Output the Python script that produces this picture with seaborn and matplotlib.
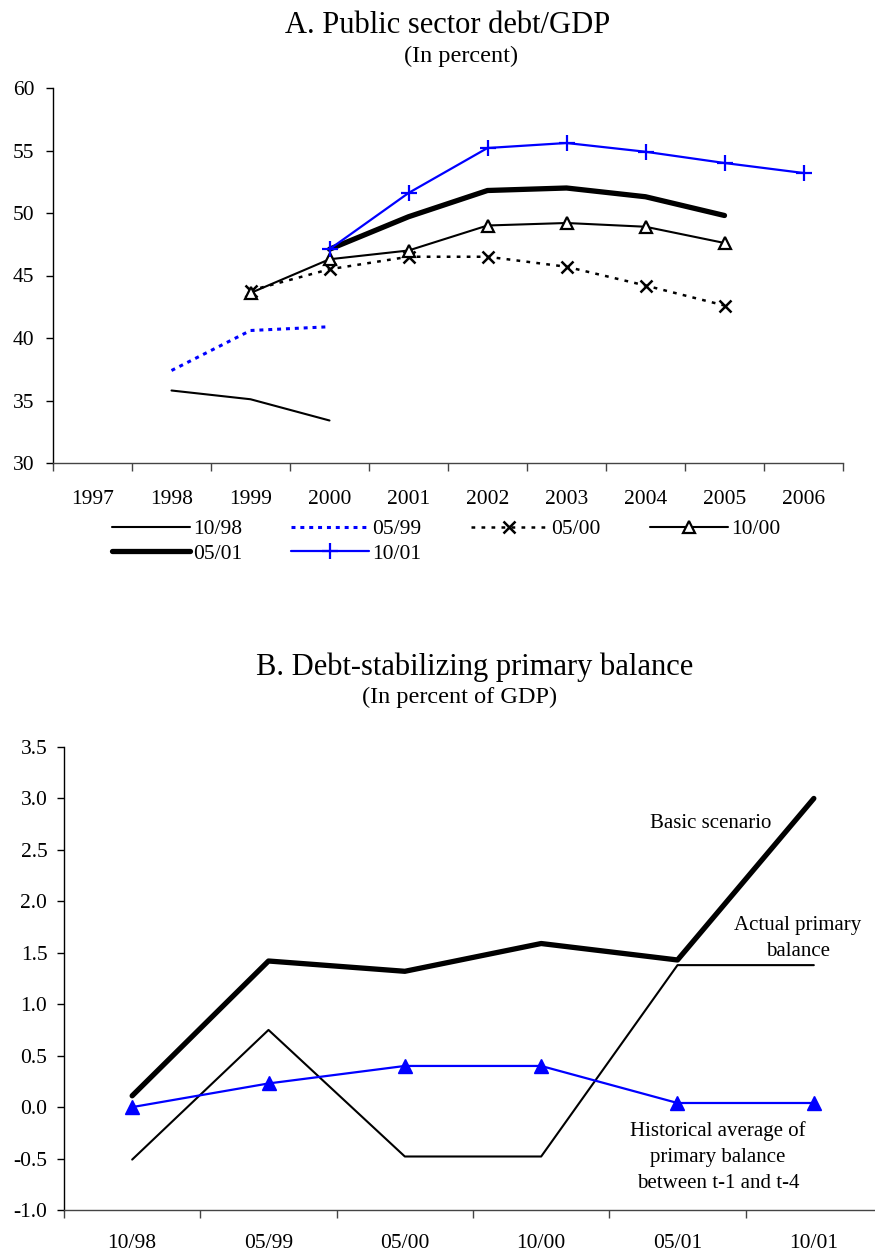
import numpy as np
import pandas as pd
import matplotlib
matplotlib.use("Agg")
import matplotlib.pyplot as plt
import seaborn as sns

sns.set_theme(style="white")
plt.rcParams["font.family"] = ["Liberation Serif", "DejaVu Serif"]
plt.rcParams["axes.unicode_minus"] = False
plt.rcParams["text.color"] = "black"
plt.rcParams["xtick.color"] = "black"
plt.rcParams["ytick.color"] = "black"
plt.rcParams["xtick.labelcolor"] = "black"
plt.rcParams["ytick.labelcolor"] = "black"

nan = np.nan
# ---- Panel A data ----
years = ["1997", "1998", "1999", "2000", "2001", "2002", "2003", "2004", "2005", "2006"]
debt_1098 = [nan, 35.8, 35.1, 33.4, nan, nan, nan, nan, nan, nan]
debt_0599 = [nan, 37.4, 40.6, 40.9, nan, nan, nan, nan, nan, nan]
debt_0500 = [nan, nan, 43.8, 45.5, 46.5, 46.5, 45.7, 44.2, 42.6, nan]
debt_1000 = [nan, nan, 43.6, 46.3, 47.0, 49.0, 49.2, 48.9, 47.6, nan]
debt_0501 = [nan, nan, nan, 47.1, 49.7, 51.8, 52.0, 51.3, 49.8, nan]
debt_1001 = [nan, nan, nan, 47.1, 51.6, 55.2, 55.6, 54.9, 54.0, 53.2]

# ---- Panel B data ----
vintages = ["10/98", "05/99", "05/00", "10/00", "05/01", "10/01"]
basic_scenario = [0.11, 1.42, 1.32, 1.59, 1.43, 3.0]
actual_primary = [-0.51, 0.75, -0.48, -0.48, 1.38, 1.38]
historical_avg = [0.0, 0.23, 0.40, 0.40, 0.04, 0.04]

W, H = 875, 1256
fig = plt.figure(figsize=(W / 100, H / 100), dpi=100)

def fx(px):
    return px / W

def fy(py):
    return 1 - py / H

ax1 = fig.add_axes([fx(53), fy(463), (843 - 53) / W, (463 - 88) / H])
ax2 = fig.add_axes([fx(64), fy(1210), (882 - 64) / W, (1210 - 747) / H])

xa = np.arange(len(years))
dfA = pd.DataFrame({"x": xa, "d1098": debt_1098, "d0599": debt_0599, "d0500": debt_0500,
                    "d1000": debt_1000, "d0501": debt_0501, "d1001": debt_1001})

BLUE = "#0000ff"
sns.lineplot(data=dfA, x="x", y="d1098", ax=ax1, color="black", lw=1.5, label="10/98")
sns.lineplot(data=dfA, x="x", y="d0599", ax=ax1, color=BLUE, lw=2.2,
             linestyle=(0, (1.3, 1.6)), label="05/99")
sns.lineplot(data=dfA, x="x", y="d0500", ax=ax1, color="black", lw=1.8,
             linestyle=(0, (1.5, 2.5)), marker="x", markersize=8,
             markeredgecolor="black", markeredgewidth=1.8, label="05/00")
sns.lineplot(data=dfA, x="x", y="d1000", ax=ax1, color="black", lw=1.5,
             marker="^", markersize=8, markerfacecolor="white",
             markeredgecolor="black", markeredgewidth=1.6, label="10/00")
sns.lineplot(data=dfA, x="x", y="d0501", ax=ax1, color="black", lw=3.8,
             solid_capstyle="round", label="05/01")
sns.lineplot(data=dfA, x="x", y="d1001", ax=ax1, color=BLUE, lw=1.6,
             marker="+", markersize=12, markeredgecolor=BLUE,
             markeredgewidth=1.6, label="10/01")

ax1.set_xlim(-0.5, len(years) - 0.5)
ax1.set_ylim(30, 60)
ax1.set_yticks(np.arange(30, 61, 5))
ax1.set_xticks(np.arange(-0.5, len(years), 1.0))
ax1.set_xticklabels([])
ax1.set_xticks(xa, minor=True)
ax1.set_xticklabels(years, minor=True)
ax1.set_xlabel("")
ax1.set_ylabel("")

ax2_x = np.arange(len(vintages))
dfB = pd.DataFrame({"x": ax2_x, "basic": basic_scenario, "actual": actual_primary,
                    "hist": historical_avg})
sns.lineplot(data=dfB, x="x", y="basic", ax=ax2, color="black", lw=3.8,
             solid_capstyle="round")
sns.lineplot(data=dfB, x="x", y="actual", ax=ax2, color="black", lw=1.5)
sns.lineplot(data=dfB, x="x", y="hist", ax=ax2, color=BLUE, lw=1.6,
             marker="^", markersize=10, markerfacecolor=BLUE,
             markeredgecolor=BLUE, markeredgewidth=1)
ax2.set_xlim(-0.5, len(vintages) - 0.5)
ax2.set_ylim(-1.0, 3.5)
ax2.set_yticks(np.arange(-1.0, 3.51, 0.5))
ax2.set_yticklabels([f"{v:.1f}" for v in np.arange(-1.0, 3.51, 0.5)])
ax2.set_xticks(np.arange(-0.5, len(vintages), 1.0))
ax2.set_xticklabels([])
ax2.set_xticks(ax2_x, minor=True)
ax2.set_xticklabels(vintages, minor=True)
ax2.set_xlabel("")
ax2.set_ylabel("")

for ax, ypad, xpad in ((ax1, 8.5, 19.5), (ax2, 7, 17)):
    for s in ("top", "right"):
        ax.spines[s].set_visible(False)
    ax.spines["left"].set_color("black")
    ax.spines["bottom"].set_color("#444444")
    ax.spines["left"].set_linewidth(1.0)
    ax.spines["bottom"].set_linewidth(1.0)
    ax.tick_params(axis="y", which="major", direction="out", length=5, width=1,
                   color="black", labelcolor="black", labelsize=15.5, pad=ypad, left=True)
    ax.tick_params(axis="x", which="major", direction="out", length=6, width=1,
                   color="#444444", bottom=True)
    ax.tick_params(axis="x", which="minor", length=0, labelsize=15.5, pad=xpad,
                   labelcolor="black", bottom=True)
    ax.grid(False)

# legend in row order matching the reference layout
handles, labels = ax1.get_legend_handles_labels()
lut = dict(zip(labels, handles))
order = ["10/98", "05/01", "05/99", "10/01", "05/00", "10/00"]
leg = ax1.legend([lut[k] for k in order], order, loc="upper left",
                 bbox_to_anchor=(fx(112), fy(519)), bbox_transform=fig.transFigure,
                 ncol=4, frameon=False, fontsize=15.5, handlelength=3.6,
                 handletextpad=0.15, columnspacing=2.3, labelspacing=0.22,
                 borderpad=0, borderaxespad=0, numpoints=1)
for t in leg.get_texts():
    t.set_color("black")

# titles
fig.text(fx(448), fy(33), "A. Public sector debt/GDP", ha="center", va="baseline", fontsize=22)
fig.text(fx(461), fy(62), "(In percent)", ha="center", va="baseline", fontsize=17.5)
fig.text(fx(475), fy(675), "B. Debt-stabilizing primary balance", ha="center", va="baseline", fontsize=22)
fig.text(fx(460), fy(703), "(In percent of GDP)", ha="center", va="baseline", fontsize=17.5)

# annotations in panel B
ax2.text(4.246, 2.76, "Basic scenario", ha="center", va="center", fontsize=15)
ax2.text(4.884, 1.64, "Actual primary\nbalance", ha="center", va="center",
         fontsize=15, linespacing=1.5)
ax2.text(4.297, -0.49, "Historical average of\nprimary balance\nbetween t-1 and t-4",
         ha="center", va="center", fontsize=15, linespacing=1.5)

fig.savefig("out.png", dpi=100)
